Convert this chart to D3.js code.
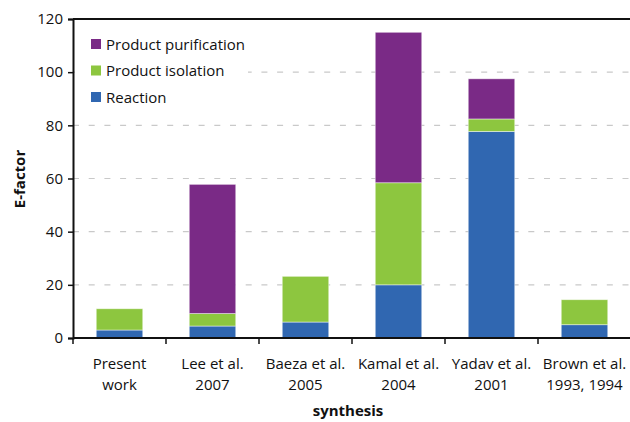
<!DOCTYPE html>
<html><head><meta charset="utf-8">
<script src="https://cdn.jsdelivr.net/npm/d3@7"></script>
<style>
body{margin:0;background:#fff;}
svg{display:block;font-family:"Open Sans","Noto Sans",sans-serif;}
</style></head>
<body>
<svg id="chart" width="630" height="422"></svg>
<script>
const categories = [["Present","work"],["Lee et al.","2007"],["Baeza et al.","2005"],["Kamal et al.","2004"],["Yadav et al.","2001"],["Brown et al.","1993, 1994"]];
const reaction = [3, 4.5, 6, 20, 77.7, 5];
const isolation = [8, 4.7, 17.2, 38.4, 4.7, 9.4];
const purification = [0, 48.6, 0, 56.6, 15.1, 0];
const yTicks = [0,20,40,60,80,100,120];
const seriesNames = ["Reaction","Product isolation","Product purification"];
const colors = {"Reaction":"#3067B1","Product isolation":"#8DC63F","Product purification":"#7A2A86"};

(function(){
const svg = d3.select("#chart");
const mLeft = 73, mRight = 631, mTop = 19, mBottom = 338;
const keys = categories.map((c,i)=>i);
const x = d3.scaleBand().domain(keys).range([mLeft,mRight]).paddingInner(0.5).paddingOuter(0.25);
const y = d3.scaleLinear().domain([0,120]).range([mBottom,mTop]);

// grid
svg.append("g").selectAll("line").data(yTicks.filter(t=>t>0 && t<120)).join("line")
  .attr("x1",mLeft).attr("x2",mRight).attr("y1",d=>y(d)).attr("y2",d=>y(d))
  .attr("stroke","#c9c9c9").attr("stroke-width",1.2).attr("stroke-dasharray","6,9.7");

// stacked data
const rows = keys.map(i=>({i, "Reaction":reaction[i], "Product isolation":isolation[i], "Product purification":purification[i]}));
const stack = d3.stack().keys(seriesNames)(rows);
svg.append("g").selectAll("g").data(stack).join("g")
  .attr("fill",d=>colors[d.key])
  .selectAll("rect").data(d=>d.filter(v=>v[1]-v[0]>0)).join("rect")
  .attr("x",d=>x(d.data.i)).attr("width",x.bandwidth())
  .attr("y",d=>y(d[1])).attr("height",d=>y(d[0])-y(d[1]))
  .attr("stroke","rgba(255,255,255,0.55)").attr("stroke-width",0.8);

// top border
svg.append("line").attr("x1",mLeft).attr("x2",mRight).attr("y1",mTop).attr("y2",mTop)
  .attr("stroke","#111").attr("stroke-width",2);

// y axis
const yAxis = d3.axisLeft(y).tickValues(yTicks).tickSize(5).tickPadding(5);
const gy = svg.append("g").attr("transform",`translate(${mLeft},0)`).call(yAxis);
gy.select(".domain").attr("stroke","#111").attr("stroke-width",2);
gy.selectAll(".tick line").attr("stroke","#111").attr("stroke-width",1.5);
gy.selectAll(".tick text").attr("font-size","15px").attr("fill","#111").attr("font-family","Open Sans, Noto Sans, sans-serif");

// x axis
svg.append("line").attr("x1",mLeft).attr("x2",mRight).attr("y1",mBottom).attr("y2",mBottom)
  .attr("stroke","#111").attr("stroke-width",2);
const step = x.step();
svg.append("g").selectAll("line").data(keys).join("line")
  .attr("x1",d=>x(d)-step*0.25).attr("x2",d=>x(d)-step*0.25)
  .attr("y1",mBottom).attr("y2",mBottom+6).attr("stroke","#111").attr("stroke-width",1.5);

// category labels
const lab = svg.append("g").selectAll("text").data(keys).join("text")
  .attr("x",d=>x(d)+x.bandwidth()/2).attr("text-anchor","middle")
  .attr("font-size","15px").attr("fill","#111");
lab.append("tspan").attr("x",d=>x(d)+x.bandwidth()/2).attr("y",369).text(d=>categories[d][0]);
lab.append("tspan").attr("x",d=>x(d)+x.bandwidth()/2).attr("y",390).text(d=>categories[d][1]);

// axis titles
svg.append("text").attr("x",(mLeft+mRight)/2 - 4).attr("y",416).attr("text-anchor","middle")
  .attr("font-size","15px").attr("font-weight","bold").attr("fill","#111").text("synthesis");
svg.append("text").attr("transform","translate(25,179) rotate(-90)").attr("text-anchor","middle")
  .attr("font-size","15px").attr("font-weight","bold").attr("fill","#111").text("E-factor");

// legend
svg.append("rect").attr("x",mLeft+2).attr("y",mTop+9).attr("width",173).attr("height",84).attr("fill","#fff");
const legendOrder = ["Product purification","Product isolation","Reaction"];
const lg = svg.append("g").selectAll("g").data(legendOrder).join("g")
  .attr("transform",(d,i)=>`translate(91,${44 + i*26.5})`);
lg.append("rect").attr("x",0).attr("y",-5).attr("width",10).attr("height",10).attr("fill",d=>colors[d]);
lg.append("text").attr("x",15).attr("y",5.5).attr("font-size","15px").attr("fill","#111").text(d=>d);
})();
</script>
</body></html>
